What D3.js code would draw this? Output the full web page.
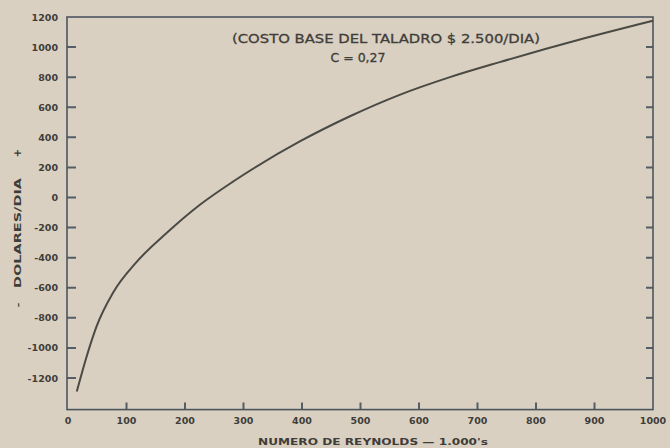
<!DOCTYPE html>
<html>
<head>
<meta charset="utf-8">
<script src="https://cdn.jsdelivr.net/npm/d3@7"></script>
<style>
  body { margin: 0; background: #d9d0c1; }
  svg { display: block; }
  .lbl { font-family: "DejaVu Sans", sans-serif; font-weight: bold; fill: #3f3d3a; }
</style>
</head>
<body>
<script>
// data
var reynolds = [15, 32, 49, 77, 117, 169, 226, 283, 397, 482, 568, 653, 738, 875, 1000]
var dolares = [-1290, -1055, -855, -633, -430, -235, -47, 108, 374, 540, 684, 800, 900, 1050, 1175]
var xTicks = [0, 100, 200, 300, 400, 500, 600, 700, 800, 900, 1000]
var yTicks = [1200, 1000, 800, 600, 400, 200, 0, -200, -400, -600, -800, -1000, -1200]

var width = 670, height = 448
var ink = '#4b5560'

var svg = d3.select('body').append('svg')
  .attr('width', width)
  .attr('height', height)

var x = d3.scaleLinear().domain([0, 1000]).range([68, 653])
var y = d3.scaleLinear().domain([-1200, 1200]).range([378, 17])
var yBottom = y(-1410)
var xLeft = x(0) - 1

// inward tick marks on left, right and bottom, one path
var tp = d3.path()
yTicks.slice(1).forEach(function(d) {
  tp.moveTo(xLeft, y(d)); tp.lineTo(xLeft + 9, y(d))
  tp.moveTo(x(1000), y(d)); tp.lineTo(x(1000) - 7, y(d))
})
xTicks.slice(1, -1).forEach(function(d) {
  tp.moveTo(x(d), yBottom); tp.lineTo(x(d), yBottom - 7)
})
svg.append('path')
  .attr('d', tp.toString())
  .attr('fill', 'none')
  .attr('stroke', '#555d66')
  .attr('stroke-width', 2)

// frame
svg.append('rect')
  .attr('x', xLeft)
  .attr('y', y(1200))
  .attr('width', x(1000) - xLeft)
  .attr('height', yBottom - y(1200))
  .attr('fill', 'none')
  .attr('stroke', ink)
  .attr('stroke-width', 1.6)

// tick labels
svg.append('g').selectAll('text')
  .data(yTicks)
  .join('text')
  .attr('class', 'lbl')
  .attr('x', 58)
  .attr('y', d => y(d) + 3.5)
  .attr('text-anchor', 'end')
  .style('font-size', '9.5px')
  .text(d => d < 0 ? '-' + Math.abs(d) : d)

svg.append('g').selectAll('text')
  .data(xTicks)
  .join('text')
  .attr('class', 'lbl')
  .attr('x', d => x(d))
  .attr('y', 424)
  .attr('text-anchor', 'middle')
  .style('font-size', '9.5px')
  .text(d => d)

// axis titles
svg.append('text')
  .attr('class', 'lbl')
  .attr('x', 258)
  .attr('y', 445)
  .attr('textLength', 230)
  .attr('lengthAdjust', 'spacingAndGlyphs')
  .style('font-size', '9px')
  .style('font-weight', 900)
  .text("NUMERO DE REYNOLDS \u2014 1.000's")

var yTitle = svg.append('g').attr('transform', 'translate(21,0) rotate(-90)')
yTitle.append('text')
  .attr('class', 'lbl')
  .attr('x', -305)
  .attr('text-anchor', 'middle')
  .style('font-size', '9px')
  .text('\u2013')
yTitle.append('text')
  .attr('class', 'lbl')
  .attr('x', -288)
  .attr('textLength', 110)
  .attr('lengthAdjust', 'spacingAndGlyphs')
  .style('font-size', '9px')
  .text('DOLARES/DIA')
yTitle.append('text')
  .attr('class', 'lbl')
  .attr('x', -153)
  .attr('text-anchor', 'middle')
  .style('font-size', '10px')
  .text('+')

// annotation
svg.append('text')
  .attr('class', 'lbl')
  .attr('x', 232)
  .attr('y', 43)
  .attr('textLength', 308)
  .attr('lengthAdjust', 'spacingAndGlyphs')
  .style('font-size', '12.5px')
  .style('font-weight', 'normal')
  .style('stroke', '#3f3d3a')
  .style('stroke-width', 0.3)
  .text('(COSTO BASE DEL TALADRO $ 2.500/DIA)')

svg.append('text')
  .attr('class', 'lbl')
  .attr('x', 358)
  .attr('y', 62)
  .attr('text-anchor', 'middle')
  .style('font-size', '12.5px')
  .style('font-weight', 'normal')
  .style('stroke', '#3f3d3a')
  .style('stroke-width', 0.3)
  .text('C = 0,27')

// curve
var line = d3.line()
  .x((d, i) => x(reynolds[i]))
  .y(d => y(d))
  .curve(d3.curveMonotoneX)

svg.append('path')
  .datum(dolares)
  .attr('d', line)
  .attr('fill', 'none')
  .attr('stroke', '#4a4944')
  .attr('stroke-width', 2)
</script>
</body>
</html>
